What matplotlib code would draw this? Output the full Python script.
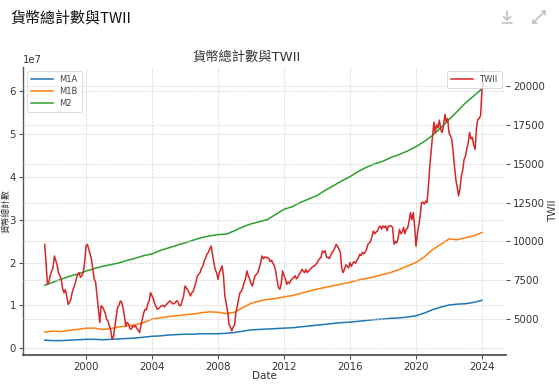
import matplotlib
matplotlib.use("Agg")
import matplotlib.pyplot as plt
import matplotlib.dates as mdates
import pandas as pd
from matplotlib.lines import Line2D

plt.rcParams['font.family'] = ['DejaVu Sans', 'Noto Sans CJK TC']

# ---------------- data ----------------
header_text = "貨幣總計數與TWII"
title_text = "貨幣總計數與TWII"
ylabel_left = "貨幣總計數"
ylabel_right = "TWII"
xlabel = "Date"

# Money aggregates, semi-annual samples (1997-07 ... 2024-01), unit 1e7
m_start = "1997-07-01"
m1a = [0.19, 0.18, 0.18, 0.19, 0.20, 0.21, 0.21, 0.20, 0.21, 0.22,
       0.23, 0.24, 0.26, 0.28, 0.29, 0.31, 0.32, 0.33, 0.33, 0.34,
       0.34, 0.34, 0.35, 0.37, 0.40, 0.43, 0.44, 0.45, 0.46, 0.47,
       0.48, 0.50, 0.52, 0.54, 0.56, 0.58, 0.60, 0.61, 0.63, 0.65,
       0.67, 0.68, 0.70, 0.71, 0.73, 0.76, 0.82, 0.90, 0.96, 1.01,
       1.03, 1.04, 1.07, 1.12]
m1b = [0.38, 0.40, 0.39, 0.42, 0.44, 0.47, 0.47, 0.44, 0.46, 0.50,
       0.52, 0.55, 0.60, 0.68, 0.71, 0.74, 0.76, 0.78, 0.80, 0.83,
       0.85, 0.84, 0.81, 0.84, 0.95, 1.05, 1.10, 1.14, 1.16, 1.20,
       1.23, 1.28, 1.33, 1.38, 1.42, 1.46, 1.50, 1.54, 1.59, 1.63,
       1.67, 1.72, 1.77, 1.84, 1.92, 2.00, 2.13, 2.30, 2.42, 2.55,
       2.53, 2.58, 2.62, 2.70]
m2 = [1.47, 1.54, 1.61, 1.68, 1.73, 1.80, 1.86, 1.91, 1.95, 1.99,
      2.05, 2.10, 2.16, 2.20, 2.28, 2.34, 2.40, 2.46, 2.52, 2.58,
      2.62, 2.65, 2.66, 2.74, 2.83, 2.90, 2.95, 3.00, 3.12, 3.24,
      3.30, 3.40, 3.48, 3.56, 3.68, 3.79, 3.90, 4.00, 4.12, 4.22,
      4.30, 4.36, 4.45, 4.52, 4.60, 4.70, 4.82, 4.96, 5.14, 5.33,
      5.52, 5.72, 5.88, 6.05]
m_scale = 1e7

# TWII, monthly (1997-07 ... 2024-02)
twii_start = "1997-07-01"
twii = [
    9820, 8500, 7250, 7400, 7800, 8100,
    8300, 9070, 8800, 8500, 8000, 7800, 7570, 7000, 6700, 6900, 6500, 5960,
    6100, 6300, 6700, 7000, 7250, 7600, 7900, 8000, 7700, 7800, 8000, 8600,
    9700, 9820, 9500, 9200, 8860, 8200, 7570, 7400, 6500, 5640, 4790, 5860,
    5800, 5600, 5400, 5000, 4890, 4600, 4300, 3710, 3900, 4500, 5200, 5750,
    5900, 6180, 6100, 5700, 5200, 4570, 4800, 4700, 4400, 4360, 4600, 4500,
    4600, 4400, 4300, 4140, 4600, 5000, 5400, 5640, 5600, 6000, 6200, 6710,
    6500, 6300, 6000, 5800, 5640, 5700, 5800, 5860, 5900, 5800, 5900, 6000,
    6100, 6180, 6100, 6000, 6000, 6070, 6200, 6100, 5860, 5900, 6200, 6500,
    7140, 7000, 6900, 6700, 6500, 6700, 6800, 7100, 7400, 7780, 7900, 8000,
    8300, 8400, 8750, 8900, 9180, 9300, 9500, 9710, 9200, 8640, 8200, 8000,
    7570, 8000, 8200, 8430, 7800, 6500, 6000, 5500, 4680, 4500, 4250, 4500,
    4600, 5430, 5800, 6300, 6710, 6800, 7000, 7360, 7600, 8110, 7800, 7600,
    7300, 7140, 7500, 7800, 7890, 8000, 8300, 8600, 9070, 8900, 9000, 8970,
    8970, 8900, 8700, 8800, 8600, 8430, 8100, 7500, 7040, 6930, 7300, 8110,
    7800, 7600, 7250, 7400, 7300, 7500, 7600, 7680, 7800, 7600, 7700, 7900,
    8000, 8210, 8100, 8000, 8200, 8000, 8110, 8200, 8300, 8400, 8400, 8530,
    8600, 8800, 8900, 9000, 9390, 9300, 9400, 8970, 9000, 8900, 9100, 9300,
    9400, 9600, 9820, 9700, 9500, 9300, 8320, 8000, 8210, 8500, 8400, 8300,
    8640, 8400, 8600, 8700, 8600, 8800, 8900, 9180, 9100, 9300, 9200, 9300,
    9500, 9820, 9900, 10000, 10300, 10670, 10500, 10600, 10700, 10900, 11000, 10800,
    11000, 10900, 11000, 10700, 11000, 11000, 11000, 10900, 9820, 10000, 9900, 10200,
    10780, 10500, 10600, 10900, 10500, 10800, 10870, 11300, 11860, 11400, 11860, 11000,
    9700, 10500, 11000, 11600, 12500, 12520, 12400, 12600, 12500, 13500, 14830, 15800,
    16760, 17660, 17000, 17500, 17300, 17800, 17200, 17000, 17400, 18170, 17700, 17900,
    17000, 16800, 16570, 15800, 14860, 14000, 13500, 12930, 13400, 14210, 14600, 15280,
    15500, 16000, 16300, 17010, 16600, 16700, 16200, 15930, 17300, 17860, 17900, 18100,
    19780, 20200,
]

m_dates = pd.date_range(m_start, periods=len(m2), freq="6MS")
twii_dates = pd.date_range(twii_start, periods=len(twii), freq="MS")

# ---------------- figure ----------------
fig = plt.figure(figsize=(5.59, 3.84), dpi=100)
ax = fig.add_axes([0.041, 0.075, 0.864, 0.751])
ax2 = ax.twinx()

ax.plot(m_dates, [v * m_scale for v in m1a], color="#1f77b4", lw=1.1, label="M1A")
ax.plot(m_dates, [v * m_scale for v in m1b], color="#ff7f0e", lw=1.1, label="M1B")
ax.plot(m_dates, [v * m_scale for v in m2], color="#2ca02c", lw=1.1, label="M2")
ax2.plot(twii_dates, twii, color="#d62728", lw=1.1, label="TWII")

ax.set_xlim(pd.Timestamp("1996-03-06"), pd.Timestamp("2025-06-13"))
ax.set_ylim(-0.16e7, 6.56e7)
ax2.set_ylim(2690, 21230)

ax.xaxis.set_major_locator(mdates.YearLocator(4))
ax.xaxis.set_major_formatter(mdates.DateFormatter("%Y"))

grid_kw = dict(linestyle="--", linewidth=0.5, color="#d4d4d4")
ax.grid(True, **grid_kw)
ax2.grid(True, axis="y", **grid_kw)
ax.set_axisbelow(True)

for s in ["top", "right"]:
    ax.spines[s].set_visible(False)
for s in ["left", "bottom"]:
    ax.spines[s].set_color("#555555")
ax.spines["left"].set_linewidth(1.0)
ax.spines["bottom"].set_linewidth(1.3)
for s in ax2.spines.values():
    s.set_visible(False)

ax.tick_params(axis="both", labelsize=7.3, length=3, width=0.8, color="#555555", labelcolor="#333333", pad=2)
ax2.tick_params(axis="y", labelsize=7.3, length=3, width=0.8, color="#555555", labelcolor="#333333", pad=2)
ax.yaxis.get_offset_text().set_fontsize(7.3)
ax.yaxis.get_offset_text().set_color("#333333")

ax.set_xlabel(xlabel, fontsize=7.5, color="#333333")
ax.xaxis.set_label_coords(0.5, -0.072)
ax.xaxis.label.set_va("center")
ax.set_ylabel(ylabel_left, fontsize=6.3, color="#333333")
ax.yaxis.set_label_coords(-0.035, 0.5)
ax.yaxis.label.set_va("center")
ax2.set_ylabel(ylabel_right, fontsize=7.5, color="#333333", labelpad=2)
ax.set_title(title_text, fontsize=9.5, color="#333333", x=0.464, pad=4)

leg1 = ax.legend(loc="upper left", fontsize=6, frameon=True, handlelength=2.6,
                 borderpad=0.5, labelspacing=0.35, fancybox=True)
leg1.get_frame().set_edgecolor("#cccccc")
leg1.get_frame().set_linewidth(0.6)
for t in leg1.get_texts():
    t.set_color("#444444")
leg2 = ax2.legend(loc="upper right", fontsize=6, frameon=True, handlelength=2.6,
                  borderpad=0.5, fancybox=True)
leg2.get_frame().set_edgecolor("#cccccc")
leg2.get_frame().set_linewidth(0.6)
for t in leg2.get_texts():
    t.set_color("#444444")

# header
fig.text(10 / 559, 1 - 18 / 384, header_text, fontsize=10.8, color="#111111",
         va="center", ha="left", family=["Noto Sans CJK TC", "DejaVu Sans"])

# icons (download / expand)
W, H = 559.0, 384.0
def px(x, y):
    return x / W, 1 - y / H
ic = "#bdbdbd"
lines = [
    [(507, 11), (507, 20)], [(503.5, 16.5), (507, 20)], [(510.5, 16.5), (507, 20)],
    [(502, 23), (512, 23)],
    [(533, 23), (539, 17)], [(533, 23), (533, 19.5)], [(533, 23), (536.5, 23)],
    [(545, 11), (539.5, 16.5)], [(545, 11), (541.5, 11)], [(545, 11), (545, 14.5)],
]
for seg in lines:
    (x0, y0), (x1, y1) = seg
    a, b = px(x0, y0)
    c, d = px(x1, y1)
    fig.add_artist(Line2D([a, c], [b, d], color=ic, lw=1.1, solid_capstyle="round"))

fig.savefig("out.png", dpi=100)
